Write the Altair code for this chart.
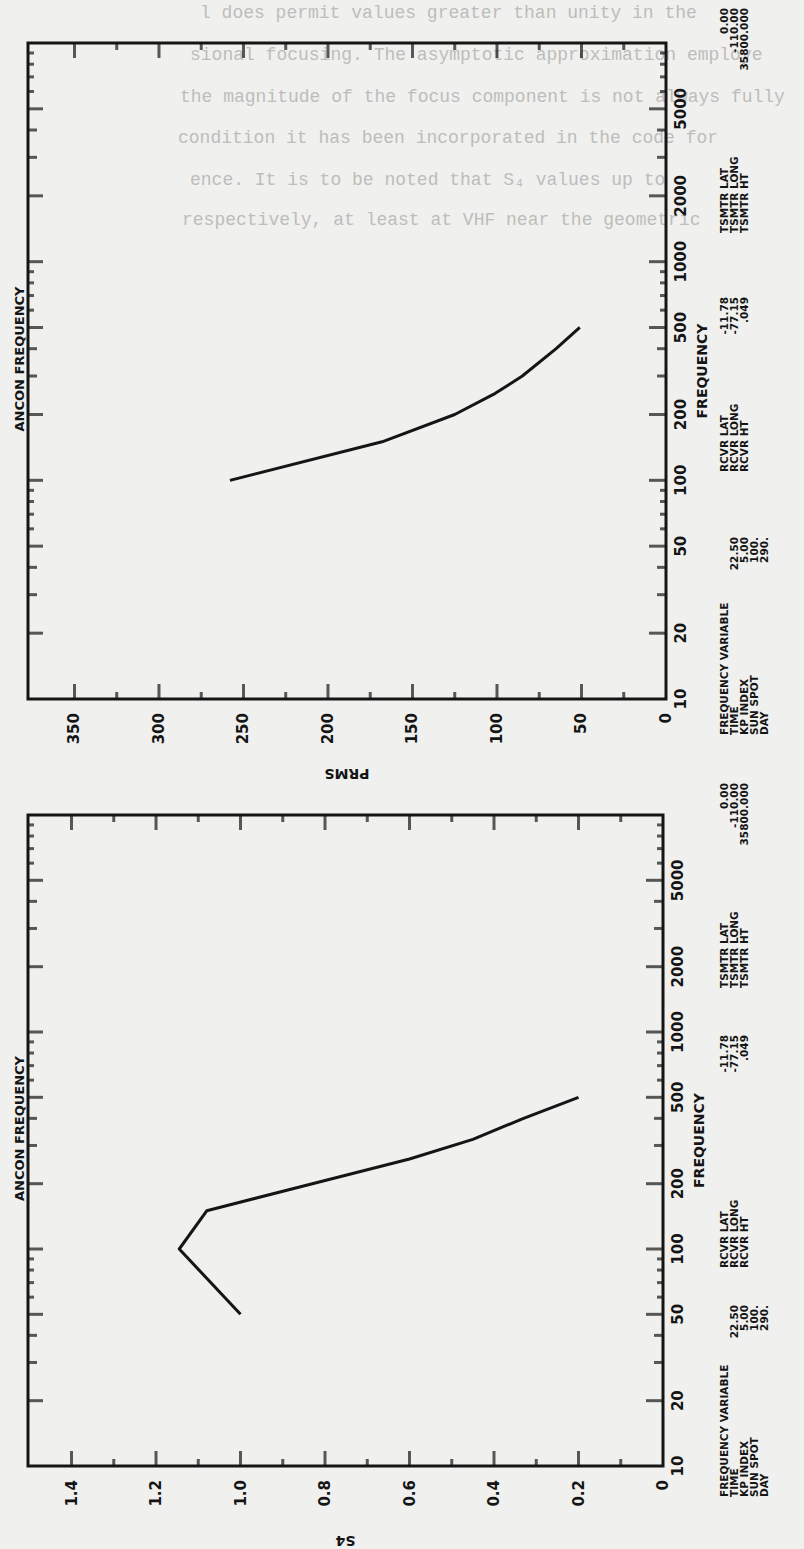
import altair as alt
import pandas as pd

# ---------------- data ----------------
# upper panel: PRMS versus frequency
freq_prms = [100, 150, 200, 250, 300, 400, 500]
prms_vals = [258, 168, 125, 101, 85, 65, 51]
# lower panel: S4 versus frequency
freq_s4 = [50, 100, 150, 200, 260, 320, 400, 500]
s4_vals = [1.00, 1.145, 1.08, 0.83, 0.60, 0.45, 0.33, 0.20]

prms_major = [50, 100, 150, 200, 250, 300, 350]
prms_minor = [25, 75, 125, 175, 225, 275, 325]
prms_labels = [0, 50, 100, 150, 200, 250, 300, 350]
s4_major = [0.2, 0.4, 0.6, 0.8, 1.0, 1.2, 1.4]
s4_minor = [0.1, 0.3, 0.5, 0.7, 0.9, 1.1, 1.3]
s4_labels = [0, 0.2, 0.4, 0.6, 0.8, 1.0, 1.2, 1.4]
freq_major = [20, 50, 100, 200, 500, 1000, 2000, 5000]
freq_mid = [30, 40, 300, 400, 3000, 4000]
freq_small = [60, 70, 80, 90, 600, 700, 800, 900, 6000, 7000, 8000, 9000]
freq_labels = [10, 20, 50, 100, 200, 500, 1000, 2000, 5000]

info1_labels = ["FREQUENCY VARIABLE", "TIME", "KP INDEX", "SUN SPOT", "DAY"]
info1_values = ["", "22.50", "5.00", "100.", "290."]
info2_labels = ["RCVR LAT", "RCVR LONG", "RCVR HT"]
info2_values = ["-11.78", "-77.15", ".049"]
info3_labels = ["TSMTR LAT", "TSMTR LONG", "TSMTR HT"]
info3_values = ["0.00", "-110.00", "35800.000"]

page_lines = [
    "l does permit values greater than unity in the",
    "sional focusing.  The asymptotic approximation employe",
    "the magnitude of the focus component is not always fully",
    "condition it has been incorporated in the code for",
    "ence.  It is to be noted that S\u2084 values up to",
    "respectively, at least at VHF near the geometric",
]

# ---------------- styling / layout ----------------
INK = "#151515"
BG = "#f0f0ee"
FONT = "DejaVu Sans"
PAGE_X = [200, 190, 180, 178, 190, 182]
PAGE_Y = [13, 55, 97, 138, 180, 220]

one = pd.DataFrame({"k": [0]})


def panel(freq_c, val_c, xmax, xrange, yrange, x_major, x_minor, x_lab_vals,
          x_lab_text, x_title, info_pos):
    xs = alt.Scale(domain=[0, xmax], range=xrange, nice=False, zero=False)
    ys = alt.Scale(type="log", domain=[10, 10000], range=yrange, nice=False)

    def xf(f):
        return alt.X(f, scale=xs, axis=None)

    def yf(f):
        return alt.Y(f, scale=ys, axis=None)

    def xd(v):
        return alt.XDatum(v, type="quantitative", scale=xs, axis=None)

    def yd(v):
        return alt.YDatum(v, type="quantitative", scale=ys, axis=None)

    layers = []
    frame = alt.Chart(one).mark_rect(fillOpacity=0, stroke=INK, strokeWidth=3).encode(
        x=xd(0), x2=alt.X2Datum(xmax), y=yd(10), y2=alt.Y2Datum(10000))
    layers.append(frame)

    dmaj = pd.DataFrame({"v": x_major})
    dmin = pd.DataFrame({"v": x_minor})
    for edge, sgn in ((10, -1), (10000, 1)):
        layers.append(alt.Chart(dmaj).mark_tick(orient="vertical", size=15, thickness=3,
                                                yOffset=sgn * 7.5, color=INK)
                      .encode(x=xf("v:Q"), y=yd(edge)))
        layers.append(alt.Chart(dmin).mark_tick(orient="vertical", size=7, thickness=3,
                                                yOffset=sgn * 3.5, color=INK)
                      .encode(x=xf("v:Q"), y=yd(edge)))

    fmaj = pd.DataFrame({"f": freq_major})
    fmid = pd.DataFrame({"f": freq_mid})
    fsml = pd.DataFrame({"f": freq_small})
    for edge, sgn, ln in ((0, -1, 17), (xmax, 1, 15)):
        for dfr, size in ((fmaj, ln), (fmid, 9), (fsml, 6)):
            layers.append(alt.Chart(dfr).mark_tick(orient="horizontal", size=size, thickness=3,
                                                   xOffset=sgn * size / 2, color=INK)
                          .encode(x=xd(edge), y=yf("f:Q")))

    curve = pd.DataFrame({"f": freq_c, "v": val_c})
    layers.append(alt.Chart(curve).mark_line(color=INK, strokeWidth=3, strokeJoin="round")
                  .encode(x=xf("v:Q"), y=yf("f:Q"), order="f:Q"))

    xl = pd.DataFrame({"v": x_lab_vals, "t": x_lab_text})
    layers.append(alt.Chart(xl).mark_text(angle=270, align="right", baseline="middle",
                                          yOffset=14, font=FONT, fontSize=15,
                                          fontWeight="bold", color=INK)
                  .encode(x=xf("v:Q"), y=yd(10), text="t:N"))
    fl = pd.DataFrame({"f": freq_labels, "t": [str(v) for v in freq_labels]})
    layers.append(alt.Chart(fl).mark_text(angle=270, align="center", baseline="top",
                                          xOffset=8, font=FONT, fontSize=15,
                                          fontWeight="bold", color=INK)
                  .encode(x=xd(0), y=yf("f:Q"), text="t:N"))

    # titles
    layers.append(alt.Chart(one).mark_text(text="ANCON FREQUENCY", angle=270, align="center",
                                           baseline="bottom", xOffset=-1, yOffset=-12,
                                           font=FONT, fontSize=13, fontWeight="bold", color=INK)
                  .encode(x=xd(xmax), y=yd(316.2)))
    layers.append(alt.Chart(one).mark_text(text="FREQUENCY", angle=270, align="center",
                                           baseline="top", xOffset=30, font=FONT, fontSize=14,
                                           fontWeight="bold", color=INK)
                  .encode(x=xd(0), y=yd(316.2)))
    layers.append(alt.Chart(one).mark_text(text=x_title, angle=180, align="center",
                                           baseline="middle", yOffset=74, font=FONT,
                                           fontSize=14, fontWeight="bold", color=INK)
                  .encode(x=xd(xmax / 2), y=yd(10)))

    # info block (three groups, lines stacked to the right)
    groups = [(info1_labels, info1_values), (info2_labels, info2_values),
              (info3_labels, info3_values)]
    for (labs, vals), (lx, start, end) in zip(groups, info_pos):
        layers.append(alt.Chart(one).mark_text(text=labs, angle=270, align="left",
                                               baseline="top", lineHeight=10, font=FONT,
                                               fontSize=10.5, fontWeight="bold", color=INK)
                      .encode(x=alt.value(lx), y=alt.value(start)))
        layers.append(alt.Chart(one).mark_text(text=vals, angle=270, align="right",
                                               baseline="top", lineHeight=10, font=FONT,
                                               fontSize=10.5, fontWeight="bold", color=INK)
                      .encode(x=alt.value(lx), y=alt.value(end)))
    return alt.layer(*layers)


top = panel(freq_prms, prms_vals, 377.5, [666, 28], [699, 43],
            prms_major, prms_minor, prms_labels, [str(v) for v in prms_labels], "PRMS",
            [(720, 735, 537), (720, 472, 297), (720, 233, 8)])

bottom = panel(freq_s4, s4_vals, 1.503, [663, 28], [1466, 815],
               s4_major, s4_minor, s4_labels,
               ["0" if v == 0 else f"{v:.1f}" for v in s4_labels], "S4",
               [(720, 1497, 1305), (720, 1268, 1035), (720, 988, 783)])

page_layers = []
for i, line in enumerate(page_lines):
    page_layers.append(alt.Chart(one).mark_text(text=line, align="left", baseline="middle",
                                                font="Liberation Mono", fontSize=18,
                                                color="#bdbdbb")
                       .encode(x=alt.value(PAGE_X[i]), y=alt.value(PAGE_Y[i])))

chart = alt.layer(*page_layers, top, bottom).resolve_scale(
    x="independent", y="independent"
).properties(
    width=804, height=1549, padding=0, autosize="none", background=BG
).configure_view(stroke=None)

chart.save("out.html", embed_options={"renderer": "svg", "actions": False})
